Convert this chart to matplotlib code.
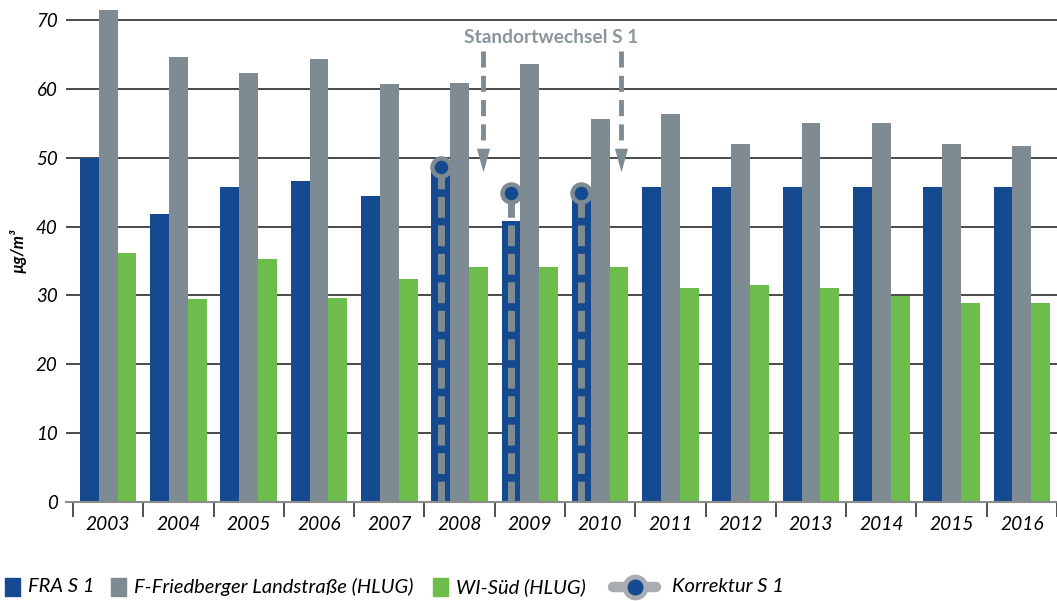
import numpy as np
import matplotlib
matplotlib.use("Agg")
import matplotlib.pyplot as plt
from matplotlib.patches import Rectangle
from matplotlib.lines import Line2D

plt.rcParams['font.family'] = ['Lato', 'DejaVu Sans']

# ── Daten ────────────────────────────────────────────────────────────────────
jahre = ["2003", "2004", "2005", "2006", "2007", "2008", "2009",
         "2010", "2011", "2012", "2013", "2014", "2015", "2016"]
fra_s1 = [50.0, 41.8, 45.7, 46.6, 44.4, 49.0, 40.8,
          44.4, 45.7, 45.7, 45.7, 45.7, 45.7, 45.7]
friedberger = [71.4, 64.6, 62.3, 64.3, 60.7, 60.8, 63.6,
               55.6, 56.3, 52.0, 55.0, 55.0, 52.0, 51.7]
wi_sued = [36.2, 29.5, 35.3, 29.6, 32.4, 34.1, 34.1,
           34.1, 31.1, 31.5, 31.1, 29.9, 28.9, 28.9]
korr_jahre = ["2008", "2009", "2010"]
korr_werte = [48.6, 44.9, 44.9]

# Farben
blau = "#154a91"
grau = "#7e8b92"
gruen = "#6dbd4c"
textgrau = "#8a969c"
hellgrau = "#a7adb0"

W, H = 1057, 601
fig = plt.figure(figsize=(W / 100, H / 100), dpi=100)
ax = fig.add_axes([66 / W, 1 - 502 / H, 991 / W, 502 / H])

x = np.arange(len(jahre))
w = 0.268
ax.bar(x - w, fra_s1, w, color=blau, zorder=2)
ax.bar(x, friedberger, w, color=grau, zorder=2)
ax.bar(x + w, wi_sued, w, color=gruen, zorder=2)

# ── Korrektur S 1: gestrichelte Linie im Balken + Kreis oben ─────────────────
for jahr, wert in zip(korr_jahre, korr_werte):
    xi = jahre.index(jahr) - w
    ax.plot([xi, xi], [0, wert], color=grau, lw=5, ls=(0, (3, 1.1)),
            solid_capstyle="butt", zorder=3)
    ax.plot(xi, wert, "o", ms=13, mfc=blau, mec=grau, mew=3.2, zorder=4)

# ── Pfeile "Standortwechsel S 1" ─────────────────────────────────────────────
for xa in [5.33, 7.30]:
    ax.plot([xa, xa], [65.5, 51.5], color=grau, lw=3.5, ls=(0, (3.3, 1.7)),
            solid_capstyle="butt", zorder=3)
    ax.plot(xa, 49.6, marker=[(-1, 1.8), (1, 1.8), (0, -1.8)], ms=17,
            color=grau, mew=0, zorder=3)
ax.text(6.31, 67.4, "Standortwechsel S 1", ha="center", va="center",
        fontsize=13.8, fontweight="bold", color=textgrau)

# ── Achsen ───────────────────────────────────────────────────────────────────
ax.set_xlim(-0.599, 13.398)
ax.set_ylim(0, 72.9)
ax.set_yticks(np.arange(0, 71, 10))
ax.yaxis.grid(True, color="#2b2b2b", lw=1.2, zorder=0)
ax.set_axisbelow(True)
for s in ["top", "right", "left"]:
    ax.spines[s].set_visible(False)
ax.spines["bottom"].set_color("#8c8c8c")
ax.spines["bottom"].set_linewidth(1.5)
ax.tick_params(axis="y", length=0, pad=6, labelsize=13.5)
for lbl in ax.get_yticklabels():
    lbl.set_style("italic")

ax.set_xticks(np.arange(-0.5, len(jahre) - 0.4, 1.0))
ax.set_xticklabels([])
ax.set_xticks(x, minor=True)
ax.set_xticklabels(jahre, minor=True, fontsize=13.8, style="italic")
ax.tick_params(axis="x", which="major", length=11, width=1.2,
               color="#333333", direction="out")
ax.tick_params(axis="x", which="minor", length=0, pad=10)

ax.set_ylabel("µg/m³", fontsize=12, fontweight="bold", style="italic")
ax.yaxis.set_label_coords(-0.040, 0.5)

# ── Legende (manuell platziert, in Pixeln) ───────────────────────────────────
def fx(px):
    return px / W

def fy(py):
    return 1 - py / H

leg_y = 587
for x0, farbe, text in [(5, blau, "FRA S 1"),
                        (111, grau, "F-Friedberger Landstraße (HLUG)"),
                        (433, gruen, "WI-Süd (HLUG)")]:
    fig.add_artist(Rectangle((fx(x0), fy(leg_y + 9)), fx(15), 18 / H,
                             color=farbe, transform=fig.transFigure))
    fig.text(fx(x0 + 23), fy(leg_y), text, fontsize=14.5, style="italic",
             va="center", ha="left")

fig.add_artist(Line2D([fx(613), fx(656)], [fy(leg_y), fy(leg_y)],
                      color=hellgrau, lw=7.5, solid_capstyle="round",
                      transform=fig.transFigure))
fig.add_artist(Line2D([fx(634.5)], [fy(leg_y)], marker="o", ms=15,
                      mfc=blau, mec=hellgrau, mew=3.5,
                      transform=fig.transFigure))
fig.text(fx(672), fy(leg_y), "Korrektur S 1", fontsize=14.5, style="italic",
         va="center", ha="left")

plt.savefig("out.png", dpi=100)
